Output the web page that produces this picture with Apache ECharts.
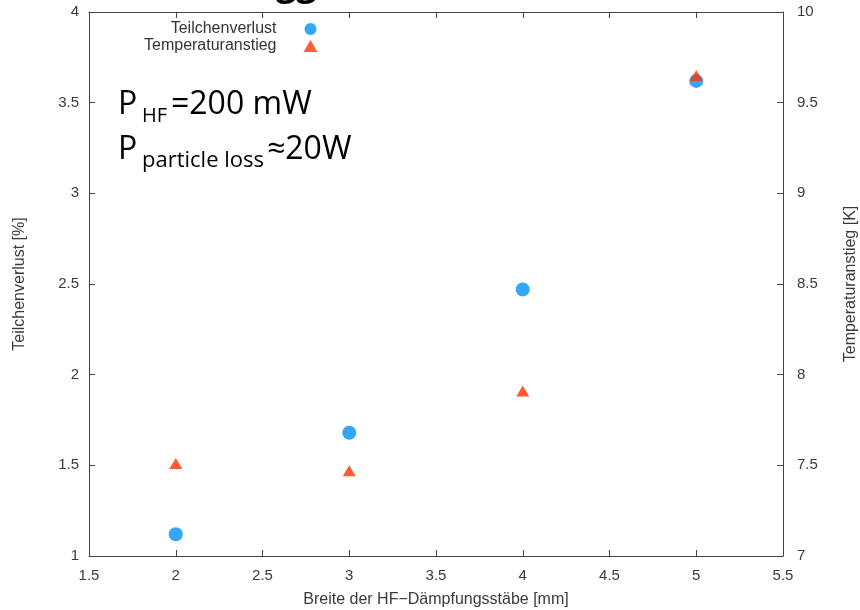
<!DOCTYPE html>
<html>
<head>
<meta charset="utf-8">
<script src="https://cdn.jsdelivr.net/npm/echarts@6/dist/echarts.min.js"></script>
<style>
html,body{margin:0;padding:0;background:#fff;}
#c{width:860px;height:610px;}
</style>
</head>
<body>
<div id="c"></div>
<script>
var widths = [2, 3, 4, 5];
var particleLoss = [1.12, 1.68, 2.47, 3.62];
var tempRise = [7.51, 7.47, 7.91, 9.65];
var xTicks = [1.5, 2, 2.5, 3, 3.5, 4, 4.5, 5, 5.5];
var leftTicks = [1, 1.5, 2, 2.5, 3, 3.5, 4];
var rightTicks = [7, 7.5, 8, 8.5, 9, 9.5, 10];

var chart = echarts.init(document.getElementById('c'));
var F = '"Liberation Sans", Arial, sans-serif';
var axisCol = '#444';
var lblCol = '#3a3a3a';

function pairs(xs, ys){ return xs.map(function(x,i){ return [x, ys[i]]; }); }

chart.setOption({
  animation: false,
  backgroundColor: '#fff',
  grid: {left: 89, right: 77, top: 12, bottom: 54, outerBoundsMode: 'none', containLabel: false},
  legend: {
    orient: 'vertical', left: 139, top: 16, align: 'right',
    itemWidth: 14, itemHeight: 12, itemGap: 1,
    textStyle: {fontFamily: F, fontSize: 16, color: '#333', padding: [0, 22, 0, 0]},
    data: [
      {name: 'Teilchenverlust', icon: 'circle'},
      {name: 'Temperaturanstieg', icon: 'triangle'}
    ]
  },
  xAxis: [{
    type: 'value', min: 1.5, max: 5.5, interval: 0.5, position: 'bottom',
    name: 'Breite der HF\u2212Dämpfungsstäbe [mm]', nameLocation: 'middle', nameGap: 36,
    nameTextStyle: {fontFamily: F, fontSize: 16, color: lblCol},
    axisLine: {show: true, onZero: false, lineStyle: {color: axisCol, width: 1}},
    axisTick: {inside: true, length: 6, lineStyle: {color: axisCol}},
    axisLabel: {fontFamily: F, fontSize: 15, color: lblCol, margin: 12,
      formatter: function(v){ return xTicks.indexOf(v) >= 0 ? String(v) : ''; }},
    splitLine: {show: false}
  }, {
    type: 'value', min: 1.5, max: 5.5, interval: 0.5, position: 'top',
    axisLine: {show: true, onZero: false, lineStyle: {color: axisCol, width: 1}},
    axisTick: {inside: true, length: 6, lineStyle: {color: axisCol}},
    axisLabel: {show: false},
    splitLine: {show: false}
  }],
  yAxis: [{
    type: 'value', min: 1, max: 4, interval: 0.5, position: 'left',
    name: 'Teilchenverlust [%]', nameLocation: 'middle', nameGap: 61, nameRotate: 90,
    nameTextStyle: {fontFamily: F, fontSize: 16, color: lblCol},
    axisLine: {show: true, onZero: false, lineStyle: {color: axisCol, width: 1}},
    axisTick: {show: true, inside: true, length: 6, lineStyle: {color: axisCol}},
    axisLabel: {fontFamily: F, fontSize: 15, color: lblCol, margin: 10,
      formatter: function(v){ return leftTicks.indexOf(v) >= 0 ? String(v) : ''; }},
    splitLine: {show: false}
  }, {
    type: 'value', min: 7, max: 10, interval: 0.5, position: 'right',
    name: 'Temperaturanstieg [K]', nameLocation: 'middle', nameGap: 60, nameRotate: 90,
    nameTextStyle: {fontFamily: F, fontSize: 16, color: lblCol},
    axisLine: {show: true, onZero: false, lineStyle: {color: axisCol, width: 1}},
    axisTick: {show: true, inside: true, length: 6, lineStyle: {color: axisCol}},
    axisLabel: {fontFamily: F, fontSize: 15, color: lblCol, margin: 14,
      formatter: function(v){ return rightTicks.indexOf(v) >= 0 ? String(v) : ''; }},
    splitLine: {show: false}
  }],
  series: [{
    name: 'Teilchenverlust', type: 'scatter', xAxisIndex: 0, yAxisIndex: 0,
    symbol: 'circle', symbolSize: 14,
    itemStyle: {color: '#0091f5'},
    data: pairs(widths, particleLoss), z: 3
  }, {
    name: 'Temperaturanstieg', type: 'scatter', xAxisIndex: 0, yAxisIndex: 1,
    symbol: 'triangle', symbolSize: [13, 11],
    itemStyle: {color: '#ff3300'},
    data: pairs(widths, tempRise), z: 4
  }],
  graphic: [
    {type: 'text', left: 276, top: -33, style: {text: 'gg', font: 'bold 36px "Open Sans", sans-serif', fill: '#000'}},
    {type: 'text', x: 118, y: 89, style: {text: 'P', font: '32px "Open Sans", sans-serif', fill: '#000'}},
    {type: 'text', x: 142, y: 106, style: {text: 'HF', font: '20px "Open Sans", sans-serif', fill: '#000'}},
    {type: 'text', x: 171, y: 89, style: {text: '=200 mW', font: '32px "Open Sans", sans-serif', fill: '#000'}},
    {type: 'text', x: 118, y: 134, style: {text: 'P', font: '32px "Open Sans", sans-serif', fill: '#000'}},
    {type: 'text', x: 142, y: 150, style: {text: 'particle loss', font: '22px "Open Sans", sans-serif', fill: '#000'}},
    {type: 'text', x: 267, y: 134, style: {text: '\u224820W', font: '32px "Open Sans", sans-serif', fill: '#000'}}
  ]
});
</script>
</body>
</html>
